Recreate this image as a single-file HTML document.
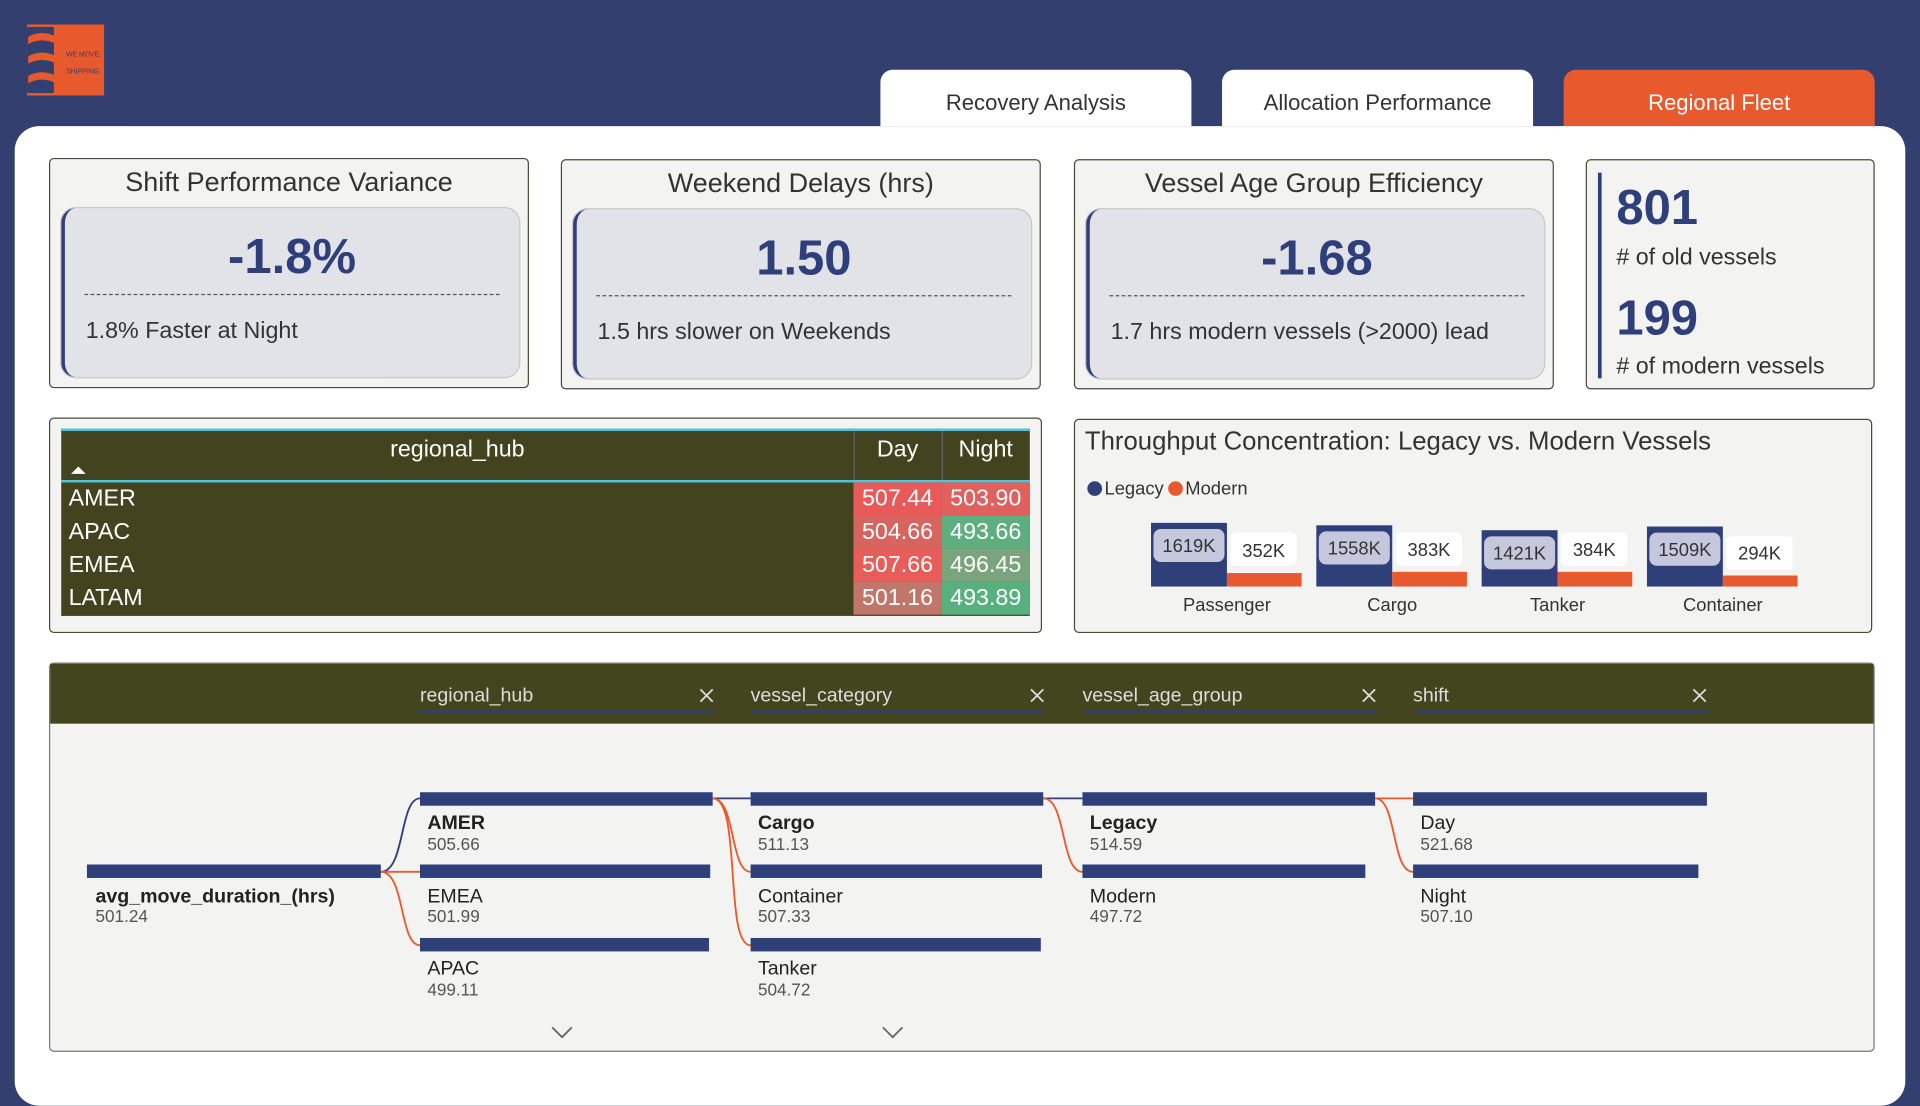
<!DOCTYPE html>
<html><head><meta charset="utf-8"><style>
html,body{margin:0;padding:0;width:1920px;height:1080px;overflow:hidden;background:#323f6f;font-family:"Liberation Sans",sans-serif}
#s{position:absolute;left:0;top:0;width:1568px;height:882px;transform:scale(1.22449);transform-origin:0 0}
.a{position:absolute}
.tab{position:absolute;top:57px;height:46px;width:254px;background:#fff;border-radius:10px 10px 0 0;text-align:center;line-height:54px;font-size:18px;color:#333}
.card{position:absolute;background:#f3f3f1;border:1.5px solid #4a4a3a;border-radius:4px;box-sizing:border-box}
.ttl{position:absolute;left:0;right:0;top:6px;text-align:center;font-size:22px;color:#333}
.inner{position:absolute;left:9px;right:7px;top:40px;bottom:8px;background:#e1e3e8;border-radius:12px;border-left:3px solid #2f3f7a;box-shadow:0 0 0 1px #c8c8c8}
.big{position:absolute;left:0;right:0;top:18px;text-align:center;font-size:40px;font-weight:bold;color:#2f3f7a}
.dash{position:absolute;left:16px;right:16px;top:70px;border-top:1.5px dashed #555}
.sub{position:absolute;left:17px;top:90px;font-size:19px;color:#333}
</style></head><body><div id="s">
<div class="a" style="left:22px;top:20px;width:63px;height:58px;background:#e85a2e"></div>
<div class="a" style="left:22px;top:22px;width:22px;height:54px;background:#323f6f"></div>
<svg class="a" style="left:20px;top:22px" width="70" height="56"><path d="M3 8 Q14 2 26 8 L26 14 Q14 8 3 14Z M3 24 Q14 18 26 24 L26 30 Q14 24 3 30Z M3 40 Q14 34 26 40 L26 46 Q14 40 3 46Z" fill="#e85a2e"/><text x="34" y="24" font-size="6" fill="#323f6f" font-family="Liberation Sans" textLength="27" lengthAdjust="spacingAndGlyphs">WE MOVE</text><text x="34" y="38" font-size="6" fill="#323f6f" font-family="Liberation Sans" textLength="27" lengthAdjust="spacingAndGlyphs">SHIPPING</text></svg>
<div class="tab" style="left:719px">Recovery Analysis</div>
<div class="tab" style="left:998px">Allocation Performance</div>
<div class="tab" style="left:1277px;background:#e85a2e;color:#fff">Regional Fleet</div>
<div class="a" style="left:12px;top:103px;width:1544px;height:800px;background:#fff;border-radius:20px"></div>

<div class="card" style="left:40px;top:129px;width:392px;height:188px"><div class="ttl">Shift Performance Variance</div><div class="inner"><div class="big">-1.8%</div><div class="dash"></div><div class="sub">1.8% Faster at Night</div></div></div>
<div class="card" style="left:458px;top:130px;width:392px;height:188px"><div class="ttl">Weekend Delays (hrs)</div><div class="inner"><div class="big">1.50</div><div class="dash"></div><div class="sub">1.5 hrs slower on Weekends</div></div></div>
<div class="card" style="left:877px;top:130px;width:392px;height:188px"><div class="ttl">Vessel Age Group Efficiency</div><div class="inner"><div class="big">-1.68</div><div class="dash"></div><div class="sub">1.7 hrs modern vessels (&gt;2000) lead</div></div></div>
<div class="card" style="left:1295px;top:130px;width:236px;height:188px">
<div class="a" style="left:9px;top:10px;width:3px;height:168px;background:#2f3f7a"></div>
<div class="a" style="left:24px;top:17px;font-size:40px;font-weight:bold;color:#2f3f7a">801</div>
<div class="a" style="left:24px;top:69px;font-size:19px;color:#333"># of old vessels</div>
<div class="a" style="left:24px;top:107px;font-size:40px;font-weight:bold;color:#2f3f7a">199</div>
<div class="a" style="left:24px;top:158px;font-size:19px;color:#333"># of modern vessels</div>
</div>

<div class="card" style="left:40px;top:341px;width:811px;height:176px">
<div class="a" style="left:9px;top:8px;width:791px;height:151px;background:#43431f;border-top:2px solid #4fc3d8;color:#fff;font-size:19px">
<div class="a" style="left:0;width:647px;top:5px;text-align:center">regional_hub</div>
<div class="a" style="left:647px;width:72px;top:5px;text-align:center">Day</div>
<div class="a" style="left:719px;width:72px;top:5px;text-align:center">Night</div>
<div class="a" style="left:647px;top:0;height:149px;border-left:1px solid #666"></div>
<div class="a" style="left:719px;top:0;height:40px;border-left:1px solid #666"></div>
<div class="a" style="left:8px;top:29px;width:0;height:0;border:6px solid transparent;border-bottom-color:#fff;border-top:0"></div>
<div class="a" style="left:0;top:40px;width:791px;border-top:2px solid #4fc3d8"></div>
<div class="a" style="left:6px;top:42px;line-height:27px">AMER<br>APAC<br>EMEA<br>LATAM</div>
<div class="a" style="left:647px;top:42px;width:72px;line-height:27px;text-align:center">
<div style="background:#e8595a">507.44</div><div style="background:#d8645f">504.66</div><div style="background:#e85d5a">507.66</div><div style="background:#c0766a">501.16</div></div>
<div class="a" style="left:719px;top:42px;width:72px;line-height:27px;text-align:center">
<div style="background:#e0605e">503.90</div><div style="background:#5fae80">493.66</div><div style="background:#79a47c">496.45</div><div style="background:#58b07f">493.89</div></div>
</div></div>

<div class="card" style="left:877px;top:342px;width:652px;height:175px">
<div class="a" style="left:8px;top:6px;font-size:21px;color:#333">Throughput Concentration: Legacy vs. Modern Vessels</div>
<svg class="a" style="left:0;top:0" width="652" height="175" font-family="Liberation Sans">
<circle cx="16" cy="56" r="6" fill="#2f3f7a"/><text x="24" y="61" font-size="15" fill="#333">Legacy</text>
<circle cx="82" cy="56" r="6" fill="#e85a2e"/><text x="90" y="61" font-size="15" fill="#333">Modern</text>
<g font-size="15" fill="#333" text-anchor="middle">
<rect x="62" y="84" width="62" height="52" fill="#2f3f7a"/><rect x="124" y="125" width="61" height="11" fill="#e85a2e"/>
<rect x="64" y="89" width="58" height="27" rx="6" fill="#c5c8dc"/><text x="93" y="108">1619K</text><rect x="127" y="92" width="54" height="27" rx="4" fill="#fff"/><text x="154" y="112">352K</text>
<text x="124" y="156">Passenger</text>
<rect x="197" y="86" width="62" height="50" fill="#2f3f7a"/><rect x="259" y="124" width="61" height="12" fill="#e85a2e"/>
<rect x="199" y="91" width="58" height="27" rx="6" fill="#c5c8dc"/><text x="228" y="110">1558K</text><rect x="262" y="92" width="54" height="27" rx="4" fill="#fff"/><text x="289" y="111">383K</text>
<text x="259" y="156">Cargo</text>
<rect x="332" y="90" width="62" height="46" fill="#2f3f7a"/><rect x="394" y="124" width="61" height="12" fill="#e85a2e"/>
<rect x="334" y="95" width="58" height="27" rx="6" fill="#c5c8dc"/><text x="363" y="114">1421K</text><rect x="397" y="92" width="54" height="27" rx="4" fill="#fff"/><text x="424" y="111">384K</text>
<text x="394" y="156">Tanker</text>
<rect x="467" y="87" width="62" height="49" fill="#2f3f7a"/><rect x="529" y="127" width="61" height="9" fill="#e85a2e"/>
<rect x="469" y="92" width="58" height="27" rx="6" fill="#c5c8dc"/><text x="498" y="111">1509K</text><rect x="532" y="95" width="54" height="27" rx="4" fill="#fff"/><text x="559" y="114">294K</text>
<text x="529" y="156">Container</text>
</g></svg></div>

<div class="card" style="left:40px;top:541px;width:1491px;height:318px;border-color:#777">
<div class="a" style="left:0;top:0;right:0;height:49px;background:#43451f"></div>
<svg class="a" style="left:-40px;top:-541px" width="1568" height="882" font-family="Liberation Sans">
<g font-size="16" fill="#ddd">
<text x="342" y="572">regional_hub</text><text x="612" y="572">vessel_category</text><text x="883" y="572">vessel_age_group</text><text x="1153" y="572">shift</text>
<g stroke="#2f3f7a" stroke-width="2"><line x1="342" y1="580" x2="582" y2="580"/><line x1="612" y1="580" x2="852" y2="580"/><line x1="883" y1="580" x2="1123" y2="580"/><line x1="1153" y1="580" x2="1393" y2="580"/></g>
<g stroke="#ddd" stroke-width="1.5"><path d="M571 562l10 10M581 562l-10 10M841 562l10 10M851 562l-10 10M1112 562l10 10M1122 562l-10 10M1382 562l10 10M1392 562l-10 10"/></g>
</g>
<g fill="none" stroke-width="1.5">
<path d="M310 711 C330 711 325 651 342 651" stroke="#2f3f7a"/>
<path d="M310 711 L342 711 M310 711 C330 711 325 771 342 771" stroke="#e85a2e"/>
<path d="M581 651 L612 651" stroke="#2f3f7a"/>
<path d="M581 651 C600 651 595 711 612 711 M581 651 C605 651 590 771 612 771" stroke="#e85a2e"/>
<path d="M851 651 L883 651" stroke="#2f3f7a"/>
<path d="M851 651 C870 651 865 711 883 711 M1122 651 L1153 651 M1122 651 C1140 651 1135 711 1153 711" stroke="#e85a2e"/>
</g>
<g fill="#2f3f7a">
<rect x="70" y="705" width="240" height="11"/>
<rect x="342" y="646" width="239" height="11"/><rect x="342" y="705" width="237" height="11"/><rect x="342" y="765" width="236" height="11"/>
<rect x="612" y="646" width="239" height="11"/><rect x="612" y="705" width="238" height="11"/><rect x="612" y="765" width="237" height="11"/>
<rect x="883" y="646" width="239" height="11"/><rect x="883" y="705" width="231" height="11"/>
<rect x="1153" y="646" width="240" height="11"/><rect x="1153" y="705" width="233" height="11"/>
</g>
<g font-size="16" fill="#222">
<text x="77" y="736" font-weight="bold">avg_move_duration_(hrs)</text><text x="77" y="752" font-size="14" fill="#555">501.24</text>
<text x="348" y="676" font-weight="bold">AMER</text><text x="348" y="693" font-size="14" fill="#555">505.66</text>
<text x="348" y="736">EMEA</text><text x="348" y="752" font-size="14" fill="#555">501.99</text>
<text x="348" y="795">APAC</text><text x="348" y="812" font-size="14" fill="#555">499.11</text>
<text x="618" y="676" font-weight="bold">Cargo</text><text x="618" y="693" font-size="14" fill="#555">511.13</text>
<text x="618" y="736">Container</text><text x="618" y="752" font-size="14" fill="#555">507.33</text>
<text x="618" y="795">Tanker</text><text x="618" y="812" font-size="14" fill="#555">504.72</text>
<text x="889" y="676" font-weight="bold">Legacy</text><text x="889" y="693" font-size="14" fill="#555">514.59</text>
<text x="889" y="736">Modern</text><text x="889" y="752" font-size="14" fill="#555">497.72</text>
<text x="1159" y="676">Day</text><text x="1159" y="693" font-size="14" fill="#555">521.68</text>
<text x="1159" y="736">Night</text><text x="1159" y="752" font-size="14" fill="#555">507.10</text>
</g>
<path d="M450 838l8 8 8-8M720 838l8 8 8-8" fill="none" stroke="#666" stroke-width="1.5"/>
</svg></div>
</div></body></html>
